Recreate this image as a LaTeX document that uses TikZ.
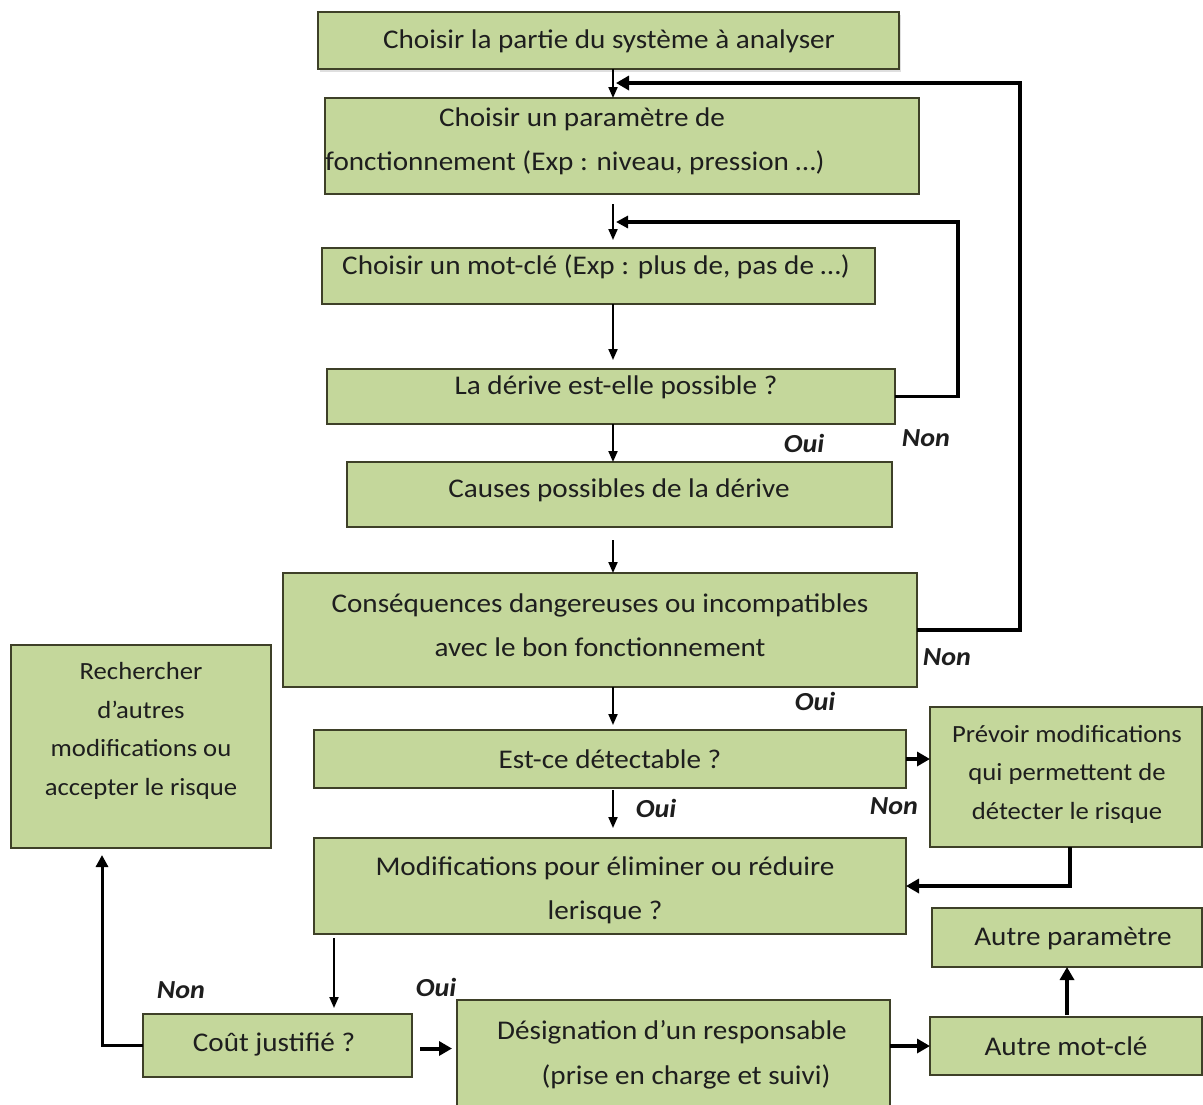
\documentclass[tikz,border=0pt]{standalone}
\usepackage{fontspec}
\setmainfont{Carlito}[FakeStretch=1.08]
\usetikzlibrary{arrows.meta,calc,shadows}
\definecolor{boxfill}{RGB}{196,215,155}
\definecolor{boxline}{RGB}{62,64,40}
\definecolor{ink}{RGB}{30,30,30}
\begin{document}
\begin{tikzpicture}[x=1pt,y=-1pt,
  box/.style={draw=boxline, line width=1.8pt, fill=boxfill, inner sep=0pt, outer sep=0pt},
  txt/.style={text=ink, inner sep=0pt, font=\fontsize{27}{44}\selectfont, align=center},
  smalltxt/.style={txt, font=\fontsize{24.7}{38.5}\selectfont},
  lab/.style={text=ink, inner sep=0pt, font=\fontsize{26}{30}\selectfont\bfseries\itshape},
  thinarr/.style={line width=2pt, -{Triangle[length=11pt,width=9pt]}},
  midarr/.style={line width=3.5pt, -{Triangle[length=12pt,width=12pt]}},
  thickarr/.style={line width=4.5pt, -{Triangle[length=13pt,width=14pt]}},
]
\useasboundingbox (0,0) rectangle (1203,1104);
\fill[white] (0,0) rectangle (1203,1104);
\clip (0,0) rectangle (1203,1104);

% boxes
\node[box, drop shadow={shadow xshift=2pt, shadow yshift=-3pt, opacity=0.25}, minimum width=581pt, minimum height=57pt] (b1) at (608.5,40.5) {};
\node[box, minimum width=594pt, minimum height=96pt]  (b2)  at (622,146) {};
\node[box, minimum width=553pt, minimum height=56pt]  (b3)  at (598.5,276) {};
\node[box, minimum width=568pt, minimum height=55pt]  (b4)  at (611,396.5) {};
\node[box, minimum width=545pt, minimum height=65pt]  (b5)  at (619.5,494.5) {};
\node[box, minimum width=634pt, minimum height=114pt] (b6)  at (600,630) {};
\node[box, minimum width=260pt, minimum height=203pt] (b7)  at (141,746.5) {};
\node[box, minimum width=592pt, minimum height=58pt]  (b8)  at (610,759) {};
\node[box, minimum width=272pt, minimum height=140pt] (b9)  at (1066,777) {};
\node[box, minimum width=592pt, minimum height=96pt]  (b10) at (610,886) {};
\node[box, minimum width=270pt, minimum height=59pt]  (b11) at (1067,937.5) {};
\node[box, minimum width=269pt, minimum height=63pt]  (b12) at (277.5,1045.5) {};
\node[box, minimum width=433pt, minimum height=110pt] (b13) at (673.5,1055) {};
\node[box, minimum width=272pt, minimum height=58pt]  (b14) at (1066,1046) {};

% texts
\node[txt] (t1)  at (609,41)  {Choisir la partie du système à analyser};
\node[txt] (t2a) at (582,119) {Choisir un paramètre de};
\node[txt, anchor=west] (t2b) at (325,163) {fonctionnement (Exp : niveau, pression …)};
\node[txt] (t3)  at (596,267) {Choisir un mot-clé (Exp : plus de, pas de …)};
\node[txt] (t4)  at (616,387) {La dérive est-elle possible ?};
\node[txt] (t5)  at (619,490) {Causes possibles de la dérive};
\node[txt] (t6)  at (600,625) {Conséquences dangereuses ou incompatibles\\avec le bon fonctionnement};
\node[smalltxt] (t7) at (141,731) {Rechercher\\d’autres\\modifications ou\\accepter le risque};
\node[txt] (t8)  at (610,759) {Est-ce détectable ?};
\node[smalltxt] (t9) at (1067,774) {Prévoir modifications\\qui permettent de\\détecter le risque};
\node[txt] (t10) at (605,890) {Modifications pour éliminer ou réduire\\lerisque ?};
\node[txt] (t11) at (1073,938) {Autre paramètre};
\node[txt] (t12) at (274,1044) {Coût justifié ?};
\node[txt] (t13a) at (672,1032) {Désignation d’un responsable};
\node[txt] (t13b) at (686,1077) {(prise en charge et suivi)};
\node[txt] (t14) at (1066,1046) {Autre mot-clé};

% labels
\node[lab] (l1) at (804,443) {Oui};
\node[lab] (l2) at (926,438) {Non};
\node[lab] (l3) at (947,657) {Non};
\node[lab] (l4) at (815,701) {Oui};
\node[lab] (l5) at (656,808) {Oui};
\node[lab] (l6) at (894,806) {Non};
\node[lab] (l7) at (181,990) {Non};
\node[lab] (l8) at (436,987) {Oui};

% main vertical axis
\coordinate (ax) at (613,0);
\coordinate (j1) at (616,83);
\coordinate (j2) at (616,222);
\coordinate (c10) at (334,0);

\draw[thinarr] (b1.south -| ax) -- (b2.north -| ax);
\draw[thinarr, shorten <=10pt, shorten >=8pt] (b2.south -| ax) -- (b3.north -| ax);
\draw[thinarr, shorten >=9pt] (b3.south -| ax) -- (b4.north -| ax);
\draw[thinarr] (b4.south -| ax) -- (b5.north -| ax);
\draw[thinarr, shorten <=13pt] (b5.south -| ax) -- (b6.north -| ax);
\draw[thinarr, shorten >=5pt] (b6.south -| ax) -- (b8.north -| ax);
\draw[thinarr, shorten <=2pt, shorten >=10pt] (b8.south -| ax) -- (b10.north -| ax);

% feedback loops
\draw[thickarr] (b6.east) -- ++(103,0) |- (j1);
\draw[midarr] (b4.east) -- ++(63,0) |- (j2);

% lower part
\draw[thickarr, line width=4pt] (b8.east) -- (b9.west |- b8.east);
\draw[thickarr, line width=4pt] ([xshift=4pt]b9.south) |- (b10.east);
\draw[thinarr, shorten <=4pt, shorten >=6pt] (b10.south -| c10) -- (b12.north -| c10);
\draw[midarr, line width=3pt, shorten >=7pt] (b12.west) -| ([xshift=-39pt]b7.south);
\draw[thickarr, line width=4pt, shorten <=8pt, shorten >=5pt] ([yshift=-3pt]b12.east) -- ([yshift=-3pt]b12.east -| b13.west);
\draw[thickarr, line width=4pt] (b13.east |- b14.west) -- (b14.west);
\draw[thickarr, line width=4pt, shorten <=2pt] ([xshift=1pt]b14.north) -- ([xshift=1pt]b14.north |- b11.south);
\end{tikzpicture}
\end{document}
